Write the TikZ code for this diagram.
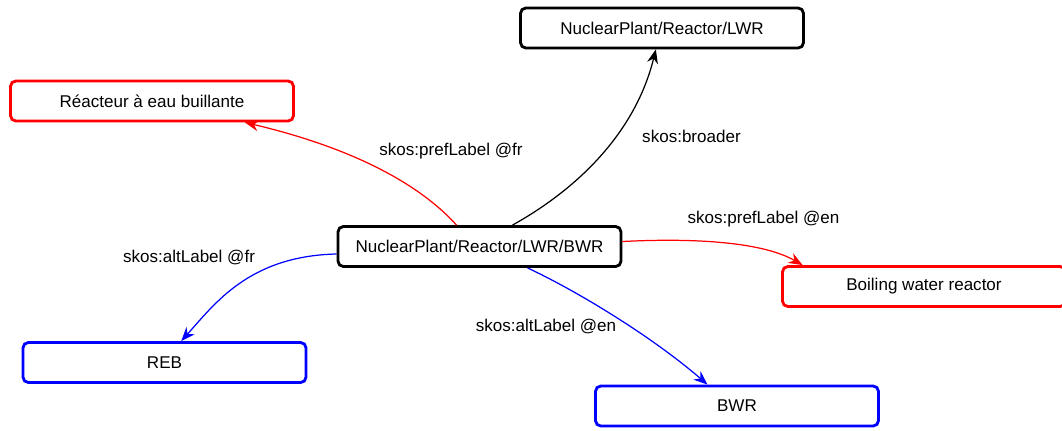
\documentclass[tikz,border=0pt]{standalone}
\usepackage{fontspec}
\setmainfont{Liberation Sans}
\usetikzlibrary{arrows.meta}
\definecolor{prefred}{RGB}{255, 0, 0}
\definecolor{altblue}{RGB}{0, 0, 255}

\begin{document}
\begin{tikzpicture}[x=0.02cm, y=-0.02cm,
    concept/.style={draw=#1, line width=1.6pt, rounded corners=3pt, minimum width=5.66cm, minimum height=0.8cm, font=\fontsize{9.7}{11.6}\selectfont},
    concept/.default=black,
    rel/.style={draw=#1, line width=0.7pt, -{Stealth[length=0.28cm, width=0.22cm]}},
    rel/.default=black,
    tag/.style={font=\fontsize{9.7}{11.6}\selectfont, inner sep=1pt}]
            \useasboundingbox (0,0) rectangle (1062,430);
            % concepts
            \node[concept]         (lwr)      at ( 662.0,  28.0) {NuclearPlant/Reactor/LWR};
            \node[concept]         (bwrc)     at ( 479.5, 246.5) {NuclearPlant/Reactor/LWR/BWR};
            \node[concept=prefred] (reacteur) at ( 152.0, 101.0) {Réacteur à eau buillante};
            \node[concept=prefred] (boiling)  at ( 924.0, 286.5) {Boiling water reactor};
            \node[concept=altblue] (reb)      at ( 164.5, 362.5) {REB};
            \node[concept=altblue] (bwr)      at ( 737.0, 406.0) {BWR};
            % relations
            \draw[rel]         (bwrc.33.5)  .. controls +( 63,-35) and +(-21, 85) .. (lwr.254.4);
            \draw[rel=prefred] (bwrc.137.5) .. controls +(-36,-40) and +(110, 26) .. (reacteur.347.9);
            \draw[rel=prefred] (bwrc.2.6)   .. controls +( 78, -4) and +(-38,-22) .. (boiling.170.15);
            \draw[rel=altblue] (bwrc.183.8) .. controls +(-87,  2) and +( 34,-38) .. (reb.52.5);
            \draw[rel=altblue] (bwrc.336.1) .. controls +( 47, 22) and +(-58,-50) .. (bwr.144.1);
            % labels
            \node[tag] (broader) at (691.5, 136.0) {skos:broader};
            \node[tag] (preffr)  at (451.0, 151.0) {skos:prefLabel @fr};
            \node[tag] (prefen)  at (763.5, 219.0) {skos:prefLabel @en};
            \node[tag] (altfr)   at (189.0, 257.0) {skos:altLabel @fr};
            \node[tag] (alten)   at (546.0, 326.0) {skos:altLabel @en};
        \end{tikzpicture}
\end{document}
